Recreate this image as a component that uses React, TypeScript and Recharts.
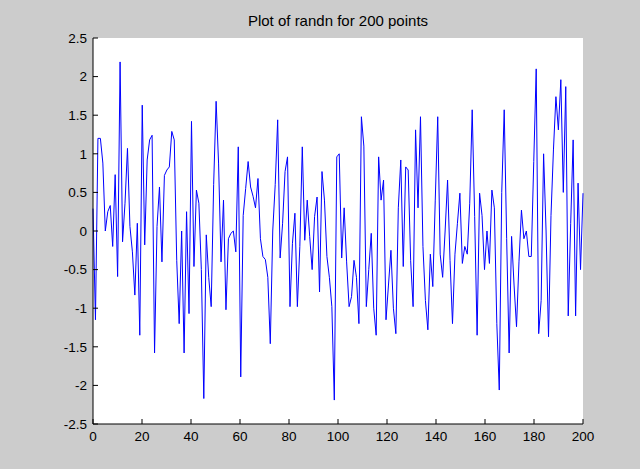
import React from "react";
import {
  LineChart,
  Line,
  XAxis,
  YAxis,
  CartesianGrid
} from "recharts";

// randn samples, 200 points
const values: number[] = [
  0.29, -1.15, 1.2, 1.2, 0.88, 0.0, 0.25, 0.33, -0.2, 0.73,
  -0.59, 2.19, -0.14, 0.36, 1.07, 0.06, -0.27, -0.83, 0.1, -1.35,
  1.63, -0.18, 0.92, 1.18, 1.24, -1.58, 0.06, 0.57, -0.4, 0.72,
  0.79, 0.83, 1.29, 1.18, -0.38, -1.2, 0.0, -1.58, 0.25, -1.07,
  1.42, -0.46, 0.53, 0.36, -0.5, -2.17, -0.05, -0.6, -0.98, 0.6,
  1.68, 0.88, -0.4, 0.4, -1.02, -0.1, -0.03, 0.0, -0.27, 1.09,
  -1.89, 0.2, 0.55, 0.9, 0.57, 0.45, 0.3, 0.68, -0.1, -0.33,
  -0.37, -0.6, -1.46, 0.0, 0.6, 1.44, -0.35, 0.1, 0.77, 0.96,
  -0.98, -0.16, 0.23, -0.98, -0.2, 1.09, -0.12, 0.4, -0.07, -0.5,
  0.19, 0.44, -0.79, 0.77, 0.4, -0.33, -0.6, -0.98, -2.19, 0.96,
  1.0, -0.35, 0.3, -0.4, -0.98, -0.85, -0.38, -0.6, -1.2, 1.48,
  1.1, -0.98, -0.5, -0.03, -1.0, -1.35, 0.96, 0.4, 0.66, -1.15,
  -0.7, -0.25, -1.0, -1.33, 0.3, 0.92, -0.46, 0.83, 0.79, -0.38,
  -0.98, 1.31, 0.3, 1.48, -0.2, -0.9, -1.28, -0.3, -0.72, 0.4,
  1.48, -0.3, -0.6, 0.0, 0.66, -0.38, -1.2, -0.3, 0.1, 0.49,
  -0.42, -0.2, -0.3, 0.36, 1.57, 0.19, -1.35, 0.49, 0.2, -0.5,
  0.0, -0.42, 0.53, 0.3, -1.2, -2.06, 0.5, 1.57, -0.1, -1.58,
  -0.07, -0.7, -1.24, -0.4, 0.27, -0.1, 0.0, -0.33, -0.33, 0.9,
  2.1, -1.33, -0.9, 1.0, 0.0, -1.37, 0.2, 1.05, 1.74, 1.31,
  1.96, 0.5, 1.87, -1.1, 0.1, 1.18, -1.1, 0.62, -0.5, 0.49
];

const xTicks = [0, 20, 40, 60, 80, 100, 120, 140, 160, 180, 200];
const yTicks = [-2.5, -2, -1.5, -1, -0.5, 0, 0.5, 1, 1.5, 2, 2.5];

const title = "Plot of randn for 200 points";

// samples spread evenly over 0..200
const data = values.map((v, i) => ({ x: (i * 200) / (values.length - 1), y: v }));

const font = "'Liberation Sans', Arial, sans-serif";
const tickLen = 5;
const gapX = 7; // label gap under bottom axis
const gapY = 6; // label gap left of left axis

// matlab style: ticks point inward, labels outside
const BottomTick = (props: any) => {
  const { x, y, payload } = props;
  const axisY = y - gapX;
  return (
    <g>
      <line x1={x} y1={axisY} x2={x} y2={axisY - tickLen} stroke="#000" />
      <text x={x} y={y} dy="0.71em" textAnchor="middle" fill="#000" fontSize={13.5} fontFamily={font}>
        {payload.value}
      </text>
    </g>
  );
};

const LeftTick = (props: any) => {
  const { x, y, payload } = props;
  const axisX = x + gapY;
  return (
    <g>
      <line x1={axisX} y1={y} x2={axisX + tickLen} y2={y} stroke="#000" />
      <text x={x} y={y} dy="0.355em" textAnchor="end" fill="#000" fontSize={13.5} fontFamily={font}>
        {payload.value}
      </text>
    </g>
  );
};

const TopTick = (props: any) => {
  const { x, y } = props;
  return <line x1={x} y1={y} x2={x} y2={y + tickLen} stroke="#000" />;
};

const RightTick = (props: any) => {
  const { x, y } = props;
  return <line x1={x} y1={y} x2={x - tickLen} y2={y} stroke="#000" />;
};

export default function App() {
  return (
    <div
      style={{
        position: "fixed",
        top: 0,
        left: 0,
        width: 640,
        height: 469,
        background: "#cccccc",
        fontFamily: font
      }}
    >
      <div
        style={{
          position: "absolute",
          top: 12,
          left: 93,
          width: 490,
          textAlign: "center",
          fontSize: 15,
          color: "#000"
        }}
      >
        {title}
      </div>

      <LineChart
        width={640}
        height={469}
        data={data}
        margin={{ top: 38, right: 57, bottom: 15, left: 53 }}
        style={{ position: "absolute", top: 0, left: 0 }}
      >
        <CartesianGrid horizontal={false} vertical={false} fill="#ffffff" />

        <XAxis
          dataKey="x"
          type="number"
          domain={[0, 200]}
          ticks={xTicks}
          height={30}
          stroke="#000"
          tickLine={false}
          tickSize={0}
          tickMargin={gapX}
          tick={BottomTick}
        />
        <XAxis
          xAxisId="top"
          orientation="top"
          type="number"
          domain={[0, 200]}
          ticks={xTicks}
          height={0}
          stroke="#000"
          tickLine={false}
          tickSize={0}
          tickMargin={0}
          tick={TopTick}
        />

        <YAxis
          type="number"
          domain={[-2.5, 2.5]}
          ticks={yTicks}
          width={40}
          stroke="#000"
          tickLine={false}
          tickSize={0}
          tickMargin={gapY}
          tick={LeftTick}
        />
        <YAxis
          yAxisId="right"
          orientation="right"
          type="number"
          domain={[-2.5, 2.5]}
          ticks={yTicks}
          width={0}
          stroke="#000"
          tickLine={false}
          tickSize={0}
          tickMargin={0}
          tick={RightTick}
        />

        <Line
          dataKey="y"
          type="linear"
          stroke="#0000ff"
          strokeWidth={1}
          dot={false}
          isAnimationActive={false}
        />
      </LineChart>
    </div>
  );
}
